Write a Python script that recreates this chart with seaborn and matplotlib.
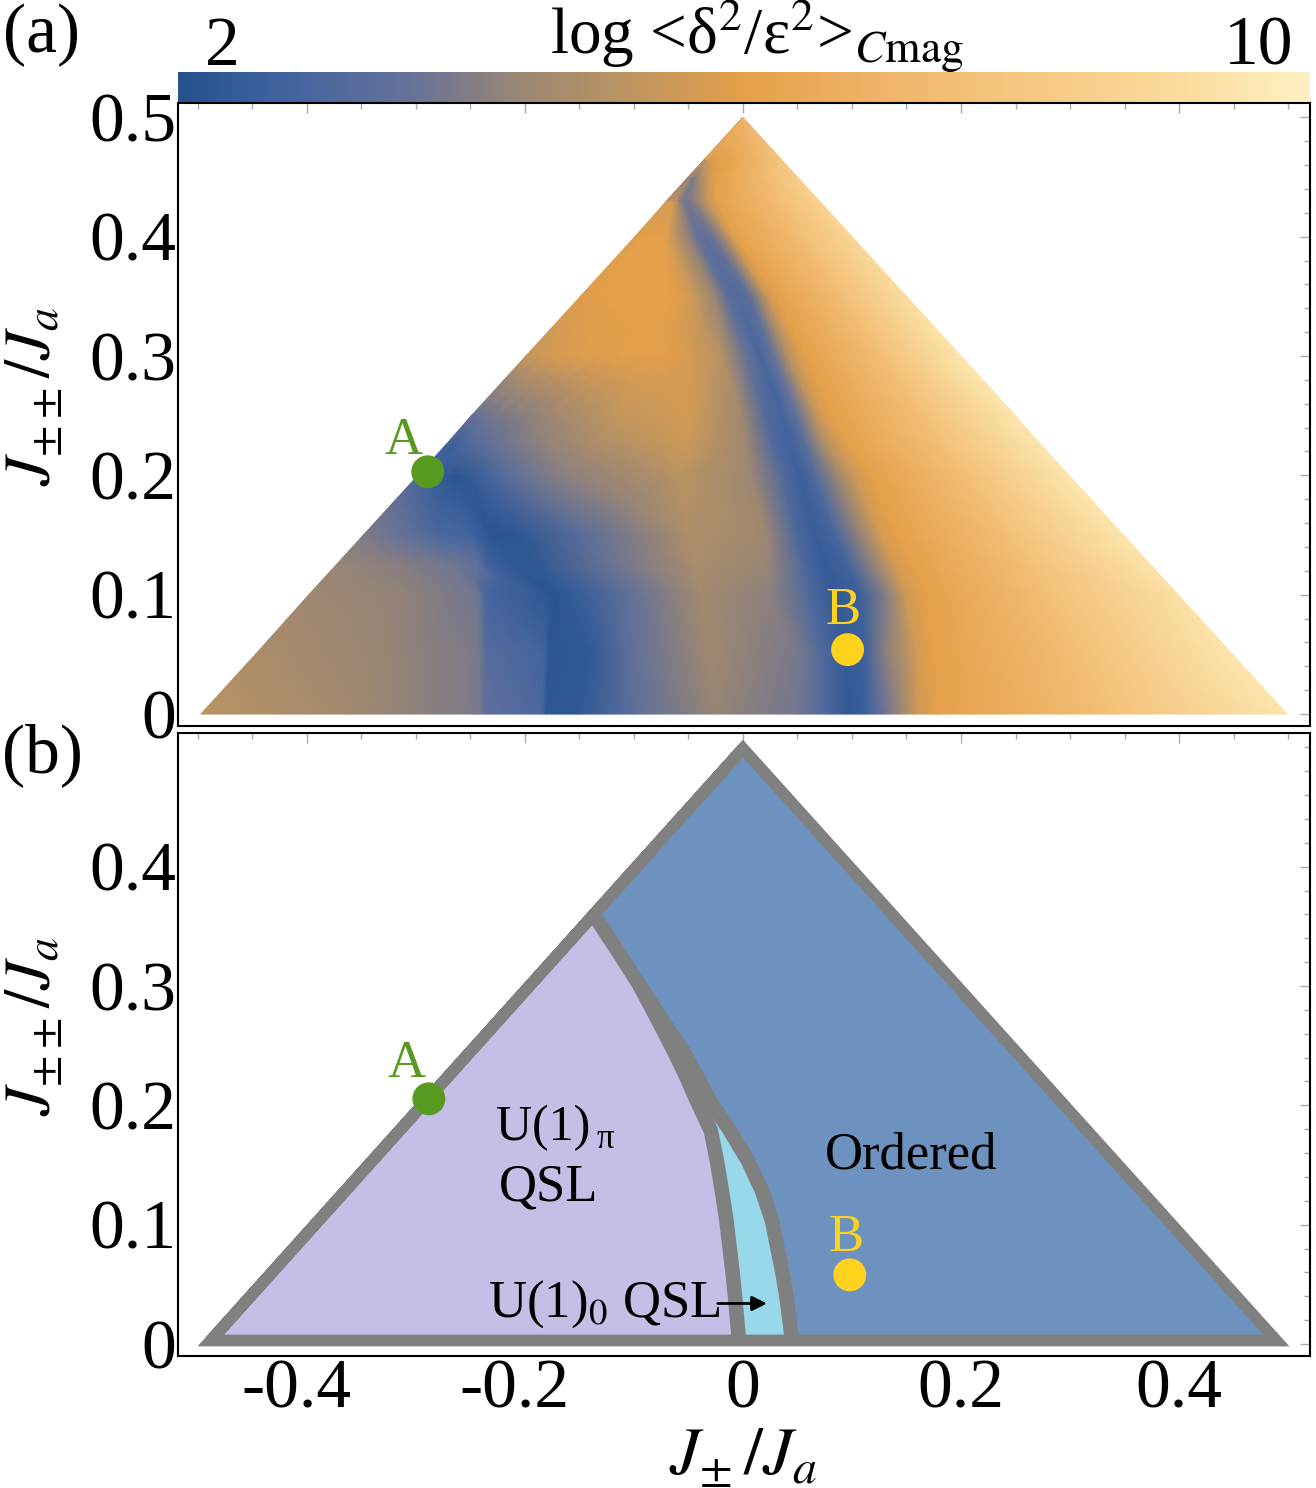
import numpy as np
import seaborn as sns
import matplotlib.pyplot as plt
from matplotlib.ticker import MultipleLocator
from matplotlib.transforms import ScaledTranslation

sns.set_theme(style='white', rc={'text.color': 'black', 'xtick.color': 'black', 'ytick.color': 'black'})
plt.rcParams['font.family'] = ['Liberation Serif', 'DejaVu Serif']
plt.rcParams['mathtext.fontset'] = 'stix'

# colour scale of the top bar, 2 .. 10
bar_colors = ['#25528D', '#44659F', '#65719A', '#9A8674', '#BE9560', '#E5A04A',
              '#EDB063', '#F3C078', '#F8CE8B', '#FBDD9F', '#FEF0C2']
bar_ticks = ['2', '10']

# panel (a): map, one row per J_pp level.
# columns follow the bands, so every row has its own J_pm positions
jpp_levels = [0, 0.05, 0.1, 0.125, 0.15, 0.2, 0.225, 0.25, 0.3, 0.35, 0.4, 0.43, 0.45, 0.465, 0.5]
jpm_grid = [
    [-.497, -.361, -.243, -.236, -.185, -.180, -.150, -.101, -.026, .052, .077, .096, .110, .128, .160, .178, .337, .499],
    [-.447, -.333, -.243, -.236, -.183, -.178, -.140, -.101, -.030, .052, .075, .094, .112, .130, .160, .173, .315, .449],
    [-.398, -.315, -.243, -.236, -.182, -.172, -.145, -.104, -.039, .025, .063, .083, .107, .130, .149, .167, .283, .399],
    [-.373, -.312, -.266, -.243, -.234, -.214, -.191, -.113, -.044, .022, .057, .075, .096, .118, .138, .155, .265, .374],
    [-.348, -.312, -.281, -.250, -.232, -.218, -.204, -.143, -.049, .020, .050, .066, .084, .107, .126, .141, .245, .349],
    [-.298, -.289, -.273, -.264, -.250, -.232, -.209, -.172, -.058, .006, .036, .052, .066, .087, .103, .117, .208, .299],
    [-.273, -.265, -.255, -.236, -.223, -.205, -.178, -.140, -.053, .002, .027, .044, .058, .075, .089, .098, .186, .274],
    [-.249, -.241, -.228, -.214, -.195, -.177, -.154, -.113, -.049, -.001, .020, .036, .050, .066, .075, .084, .167, .250],
    [-.199, -.186, -.168, -.150, -.131, -.113, -.094, -.072, -.049, -.019, .002, .016, .028, .041, .050, .059, .130, .200],
    [-.149, -.136, -.122, -.108, -.094, -.081, -.067, -.058, -.044, -.026, -.014, -.005, .006, .015, .023, .032, .091, .150],
    [-.099, -.094, -.090, -.085, -.081, -.076, -.072, -.067, -.060, -.050, -.043, -.036, -.028, -.018, -.012, -.006, .047, .100],
    [-.070, -.069, -.068, -.067, -.066, -.065, -.064, -.063, -.060, -.058, -.055, -.052, -.046, -.039, -.033, -.024, .023, .070],
    [-.0500, -.0495, -.0490, -.0485, -.0480, -.0475, -.0470, -.0465, -.0460, -.0455, -.0450, -.0445, -.040, -.034, -.030, -.024, .013, .050],
    [-.0350, -.0347, -.0344, -.0341, -.0338, -.0335, -.0332, -.0329, -.0326, -.0323, -.0320, -.0317, -.028, -.024, -.020, -.014, .010, .035],
    [0] * 18,
]
value_grid = [
    [5.15, 4.6, 3.95, 3.45, 3.0, 2.25, 2.3, 3.4, 4.35, 3.8, 3.0, 2.3, 2.5, 3.6, 5.5, 6.0, 7.6, 9.5],
    [4.8, 4.4, 3.95, 3.3, 2.8, 2.2, 2.3, 3.5, 4.55, 3.9, 3.0, 2.4, 2.7, 4.1, 5.6, 6.0, 7.6, 9.5],
    [4.5, 4.3, 3.8, 2.9, 2.3, 2.15, 2.6, 3.5, 4.6, 4.2, 3.0, 2.4, 2.6, 4.0, 5.5, 6.0, 7.6, 9.3],
    [4.4, 4.1, 3.8, 3.55, 2.7, 2.3, 2.25, 3.8, 4.75, 4.4, 3.0, 2.45, 2.75, 4.2, 5.55, 6.0, 7.6, 9.4],
    [4.0, 3.6, 3.0, 2.8, 2.2, 2.2, 2.25, 3.4, 4.9, 4.5, 3.0, 2.5, 2.9, 4.3, 5.6, 6.0, 7.6, 9.5],
    [3.0, 2.7, 2.3, 2.2, 2.4, 2.9, 3.5, 4.1, 5.1, 4.5, 3.2, 2.6, 3.2, 4.5, 5.5, 6.0, 7.6, 9.5],
    [2.7, 2.6, 3.0, 3.4, 3.7, 3.95, 4.3, 4.8, 5.45, 4.5, 3.2, 2.7, 3.4, 4.9, 5.6, 6.05, 7.6, 9.5],
    [3.5, 3.7, 3.9, 4.0, 4.2, 4.5, 4.8, 5.3, 5.6, 4.5, 3.2, 2.8, 3.6, 5.2, 5.8, 6.05, 7.6, 9.5],
    [5.3, 5.5, 5.7, 5.85, 5.9, 5.95, 5.95, 5.95, 5.7, 5.0, 3.7, 2.95, 3.6, 5.0, 5.6, 6.05, 7.6, 9.5],
    [5.9, 5.95, 6.0, 6.0, 6.0, 6.0, 6.0, 5.9, 5.4, 4.4, 3.4, 3.15, 3.4, 4.4, 5.5, 6.05, 7.5, 9.2],
    [5.9, 6.0, 6.0, 6.0, 6.0, 6.0, 6.0, 5.6, 5.0, 4.3, 3.7, 3.5, 3.7, 4.5, 5.5, 6.05, 7.3, 8.8],
    [5.6, 5.6, 5.6, 5.6, 5.6, 5.6, 5.6, 5.5, 4.8, 4.3, 3.95, 3.85, 4.1, 4.7, 5.3, 6.05, 7.2, 8.6],
    [4.0, 4.0, 4.0, 4.0, 4.0, 4.0, 4.0, 4.0, 4.0, 4.0, 3.9, 4.0, 4.6, 5.2, 5.7, 6.05, 7.1, 8.4],
    [5.8, 5.8, 5.8, 5.8, 5.8, 5.8, 5.8, 5.8, 5.8, 5.8, 5.8, 5.8, 5.9, 6.0, 6.05, 6.1, 6.9, 7.9],
    [7.0] * 18,
]

# panel (b): phase boundaries
outline_jpm = [-.488, 0, .489, -.488, 0]
outline_jpp = [.003, .499, .003, .003, .499]
left_jpm = [-.134, -.1147, -.0954, -.0789, -.0633, -.0523, -.0422, -.0358, -.0294,
            -.0239, -.0193, -.0151, -.0119, -.0092, -.0069, -.0037]
left_jpp = [.356, .3292, .3016, .2732, .2456, .2247, .2038, .1913, .1788,
            .1537, .1287, .1036, .0785, .0576, .0368, .0033]
right_jpm = [-.0954, -.0752, -.055, -.0422, -.0303, -.0119, .0046, .0174, .0266, .0321, .0367, .0404, .045]
right_jpp = [.3016, .2732, .2456, .2247, .2038, .1788, .1537, .1287, .1036, .0785, .0576, .0368, .0033]

# marked points, panels (a) and (b)
point_names = ['A', 'B']
point_colors = ['#58991F', '#FFD21E']
points_a_jpm = [-.289, .096]
points_a_jpp = [.203, .054]
points_b_jpm = [-.288, .098]
points_b_jpp = [.2055, .058]
labels_a_pos = [(-.311, .229), (.092, .086)]
labels_b_pos = [(-.308, .235), (.095, .089)]

xtick_values = [-0.4, -0.2, 0, 0.2, 0.4]
xtick_labels = ['-0.4', '-0.2', '0', '0.2', '0.4']
ytick_values_a = [0, 0.1, 0.2, 0.3, 0.4, 0.5]
ytick_labels_a = ['0', '0.1', '0.2', '0.3', '0.4', '0.5']
ytick_values_b = [0, 0.1, 0.2, 0.3, 0.4]
ytick_labels_b = ['0', '0.1', '0.2', '0.3', '0.4']

W, H = 1316, 1488
fig = plt.figure(figsize=(W / 100, H / 100), dpi=100)


def add_box(top, bottom, left=178, right=1310):
    return fig.add_axes([left / W, 1 - bottom / H, (right - left) / W, (bottom - top) / H])


cax = add_box(72, 102)
ax_a = add_box(103, 726)
ax_b = add_box(733, 1356)

cmap = sns.blend_palette(bar_colors, n_colors=256, as_cmap=True)

# colour bar
sns.heatmap(np.linspace(2, 10, 400).reshape(1, -1), cmap=cmap, vmin=2, vmax=10, cbar=False,
            xticklabels=False, yticklabels=False, ax=cax)
cax.set_xlabel('')
cax.set_ylabel('')

# map
X = np.array(jpm_grid)
Y = np.repeat(np.array(jpp_levels)[:, None], X.shape[1], axis=1)
ax_a.pcolormesh(X, Y, np.array(value_grid), cmap=cmap, vmin=2, vmax=10, shading='gouraud')

# phase diagram
GRAY = '#808080'
tri_x, tri_y = outline_jpm[:3], outline_jpp[:3]
ax_b.fill(tri_x, tri_y, color='#6E92C0', lw=0)
ax_b.fill(left_jpm + [outline_jpm[0]], left_jpp + [outline_jpp[0]], color='#C5BEE6', lw=0)
ax_b.fill(left_jpm[2:] + right_jpm[::-1], left_jpp[2:] + right_jpp[::-1], color='#97D8EA', lw=0)
for bx, by in [(left_jpm, left_jpp), (right_jpm, right_jpp)]:
    sns.lineplot(x=bx, y=by, sort=False, estimator=None, color=GRAY, lw=10.5, ax=ax_b,
                 solid_capstyle='butt')
sns.lineplot(x=outline_jpm, y=outline_jpp, sort=False, estimator=None, color=GRAY, lw=8.5, ax=ax_b,
             solid_joinstyle='miter', solid_capstyle='butt')

# points
for ax, px, py, lab_pos in [(ax_a, points_a_jpm, points_a_jpp, labels_a_pos),
                            (ax_b, points_b_jpm, points_b_jpp, labels_b_pos)]:
    sns.scatterplot(x=px, y=py, hue=point_names, palette=point_colors, s=560, linewidth=0,
                    legend=False, ax=ax, zorder=5)
    for name, col, pos in zip(point_names, point_colors, lab_pos):
        ax.text(pos[0], pos[1], name, color=col, fontsize=38, ha='center', va='center')

for ax in [ax_a, ax_b]:
    ax.set_xlim(-0.518, 0.52)
    ax.set_ylim(-0.01, 0.512)
    ax.set_xticks(xtick_values)
    ax.xaxis.set_minor_locator(MultipleLocator(0.05))
    ax.yaxis.set_minor_locator(MultipleLocator(0.02))
    ax.tick_params(which='both', direction='in', top=True, right=True, color='#aaaaaa', width=1)
    ax.tick_params(which='major', length=7)
    ax.tick_params(which='minor', length=4)
    for s in ax.spines.values():
        s.set_color('black')
        s.set_linewidth(1.5)

ax_a.set_xticklabels([])
ax_a.set_yticks(ytick_values_a)
ax_a.set_yticklabels(ytick_labels_a, fontsize=50)
ax_b.set_yticks(ytick_values_b)
ax_b.set_yticklabels(ytick_labels_b, fontsize=50)
ax_b.set_xticks(xtick_values)
ax_b.set_xticklabels(xtick_labels, fontsize=50)
ax_a.tick_params(axis='y', pad=1)
ax_b.tick_params(axis='y', pad=1)
ax_b.tick_params(axis='x', pad=2)
# the negative labels sit a little left of their ticks
for lab in ax_b.get_xticklabels()[:2]:
    lab.set_transform(lab.get_transform() + ScaledTranslation(-0.1, 0, fig.dpi_scale_trans))

# axis labels
ylab = r'$J_{\pm\pm}/J_a$'
fig.text(34 / W, 1 - 397 / H, ylab, fontsize=47, rotation=90, ha='center', va='center')
fig.text(34 / W, 1 - 1027 / H, ylab, fontsize=47, rotation=90, ha='center', va='center')
fig.text(743 / W, 1 - 1458 / H, r'$J_{\pm}\,/J_a$', fontsize=49, ha='center', va='center')

# header
fig.text(41 / W, 1 - 35 / H, '(a)', fontsize=50, ha='center', va='center')
fig.text(42 / W, 1 - 755 / H, '(b)', fontsize=50, ha='center', va='center')
fig.text(222 / W, 1 - 48 / H, bar_ticks[0], fontsize=50, ha='center', va='center')
fig.text(1259 / W, 1 - 48 / H, bar_ticks[1], fontsize=50, ha='center', va='center')
fig.text(757 / W, 1 - 54 / H, r'log <δ$^2$/ε$^2$>$_{C\mathrm{mag}}$', fontsize=47,
         ha='center', va='baseline')

# phase names
ax_b.text(-.226, .181, 'U(1)', fontsize=36, ha='left', va='center')
ax_b.text(-.134, .1646, 'π', fontsize=25, ha='left', va='baseline')
ax_b.text(-.224, .131, 'QSL', fontsize=38, ha='left', va='center')
ax_b.text(.154, .158, 'Ordered', fontsize=38, ha='center', va='center')
ax_b.text(-.234, .033, r'U(1)$_{0}$ QSL', fontsize=38, ha='left', va='center')
ax_b.annotate('', xy=(.022, .034), xytext=(-.023, .034),
              arrowprops=dict(arrowstyle='-|>', color='black', lw=2, mutation_scale=22,
                              shrinkA=0, shrinkB=0))

fig.savefig('out.png', dpi=100)
